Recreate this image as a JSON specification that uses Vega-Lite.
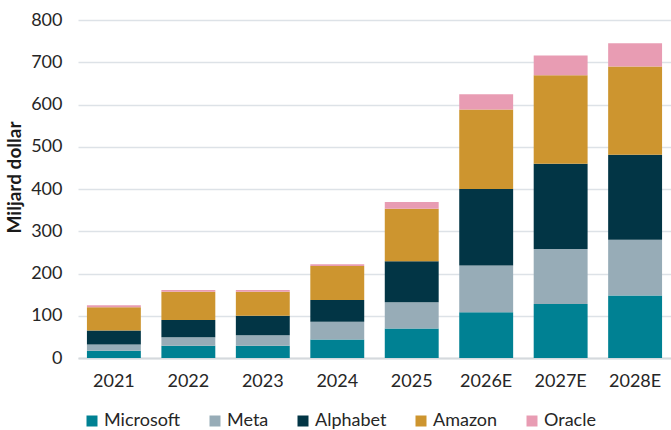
{
  "$schema": "https://vega.github.io/schema/vega-lite/v6.json",
  "width": 593,
  "height": 338,
  "autosize": {"type": "none"},
  "padding": {"left": 78, "top": 20, "right": 0, "bottom": 72},
  "background": "white",
  "config": {
    "font": "Lato",
    "view": {"stroke": null}
  },
  "data": {
    "values": [
      {"year": "2021", "company": "Microsoft", "idx": 1, "value": 17},
      {"year": "2021", "company": "Meta", "idx": 2, "value": 15},
      {"year": "2021", "company": "Alphabet", "idx": 3, "value": 33},
      {"year": "2021", "company": "Amazon", "idx": 4, "value": 55},
      {"year": "2021", "company": "Oracle", "idx": 5, "value": 5},
      {"year": "2022", "company": "Microsoft", "idx": 1, "value": 29},
      {"year": "2022", "company": "Meta", "idx": 2, "value": 20},
      {"year": "2022", "company": "Alphabet", "idx": 3, "value": 41},
      {"year": "2022", "company": "Amazon", "idx": 4, "value": 67},
      {"year": "2022", "company": "Oracle", "idx": 5, "value": 4},
      {"year": "2023", "company": "Microsoft", "idx": 1, "value": 29},
      {"year": "2023", "company": "Meta", "idx": 2, "value": 25},
      {"year": "2023", "company": "Alphabet", "idx": 3, "value": 46},
      {"year": "2023", "company": "Amazon", "idx": 4, "value": 57},
      {"year": "2023", "company": "Oracle", "idx": 5, "value": 4},
      {"year": "2024", "company": "Microsoft", "idx": 1, "value": 44},
      {"year": "2024", "company": "Meta", "idx": 2, "value": 42},
      {"year": "2024", "company": "Alphabet", "idx": 3, "value": 51},
      {"year": "2024", "company": "Amazon", "idx": 4, "value": 81},
      {"year": "2024", "company": "Oracle", "idx": 5, "value": 4},
      {"year": "2025", "company": "Microsoft", "idx": 1, "value": 70},
      {"year": "2025", "company": "Meta", "idx": 2, "value": 62},
      {"year": "2025", "company": "Alphabet", "idx": 3, "value": 97},
      {"year": "2025", "company": "Amazon", "idx": 4, "value": 124},
      {"year": "2025", "company": "Oracle", "idx": 5, "value": 16},
      {"year": "2026E", "company": "Microsoft", "idx": 1, "value": 108},
      {"year": "2026E", "company": "Meta", "idx": 2, "value": 111},
      {"year": "2026E", "company": "Alphabet", "idx": 3, "value": 181},
      {"year": "2026E", "company": "Amazon", "idx": 4, "value": 188},
      {"year": "2026E", "company": "Oracle", "idx": 5, "value": 36},
      {"year": "2027E", "company": "Microsoft", "idx": 1, "value": 128},
      {"year": "2027E", "company": "Meta", "idx": 2, "value": 130},
      {"year": "2027E", "company": "Alphabet", "idx": 3, "value": 202},
      {"year": "2027E", "company": "Amazon", "idx": 4, "value": 209},
      {"year": "2027E", "company": "Oracle", "idx": 5, "value": 47},
      {"year": "2028E", "company": "Microsoft", "idx": 1, "value": 148},
      {"year": "2028E", "company": "Meta", "idx": 2, "value": 132},
      {"year": "2028E", "company": "Alphabet", "idx": 3, "value": 201},
      {"year": "2028E", "company": "Amazon", "idx": 4, "value": 209},
      {"year": "2028E", "company": "Oracle", "idx": 5, "value": 55}
    ]
  },
  "mark": {"type": "bar"},
  "encoding": {
    "x": {
      "field": "year",
      "type": "nominal",
      "sort": null,
      "scale": {"paddingInner": 0.276, "paddingOuter": 0.12},
      "axis": {
        "title": null,
        "labelAngle": 0,
        "labelFont": "Lato",
        "labelFontSize": 18,
        "labelColor": "#262626",
        "labelPadding": 14,
        "ticks": false,
        "domain": true,
        "domainColor": "#d5d9dd",
        "domainWidth": 2
      }
    },
    "y": {
      "field": "value",
      "type": "quantitative",
      "stack": "zero",
      "scale": {"domain": [0, 800], "nice": false},
      "axis": {
        "title": "Miljard dollar",
        "titleFont": "Lato",
        "titleFontSize": 19,
        "titleFontWeight": "bold",
        "titleColor": "#1a1a1a",
        "titleX": -54,
        "titleY": 157,
        "values": [0, 100, 200, 300, 400, 500, 600, 700, 800],
        "labelFont": "Lato",
        "labelFontSize": 18,
        "labelColor": "#262626",
        "labelPadding": 16,
        "ticks": false,
        "domain": false,
        "grid": true,
        "gridColor": "#dde2e7",
        "gridWidth": 1.5
      }
    },
    "color": {
      "field": "company",
      "type": "nominal",
      "sort": ["Microsoft", "Meta", "Alphabet", "Amazon", "Oracle"],
      "scale": {
        "domain": ["Microsoft", "Meta", "Alphabet", "Amazon", "Oracle"],
        "range": ["#008193", "#97acb7", "#023545", "#cd952f", "#e89cb3"]
      },
      "legend": {
        "title": null,
        "orient": "none",
        "direction": "horizontal",
        "legendX": 5,
        "legendY": 392,
        "symbolType": "square",
        "symbolSize": 121,
        "symbolStrokeWidth": 0,
        "labelFont": "Lato",
        "labelFontSize": 18,
        "labelColor": "#262626",
        "labelOffset": 3,
        "columnPadding": 25
      }
    },
    "order": {"field": "idx", "type": "quantitative", "sort": "ascending"}
  }
}
